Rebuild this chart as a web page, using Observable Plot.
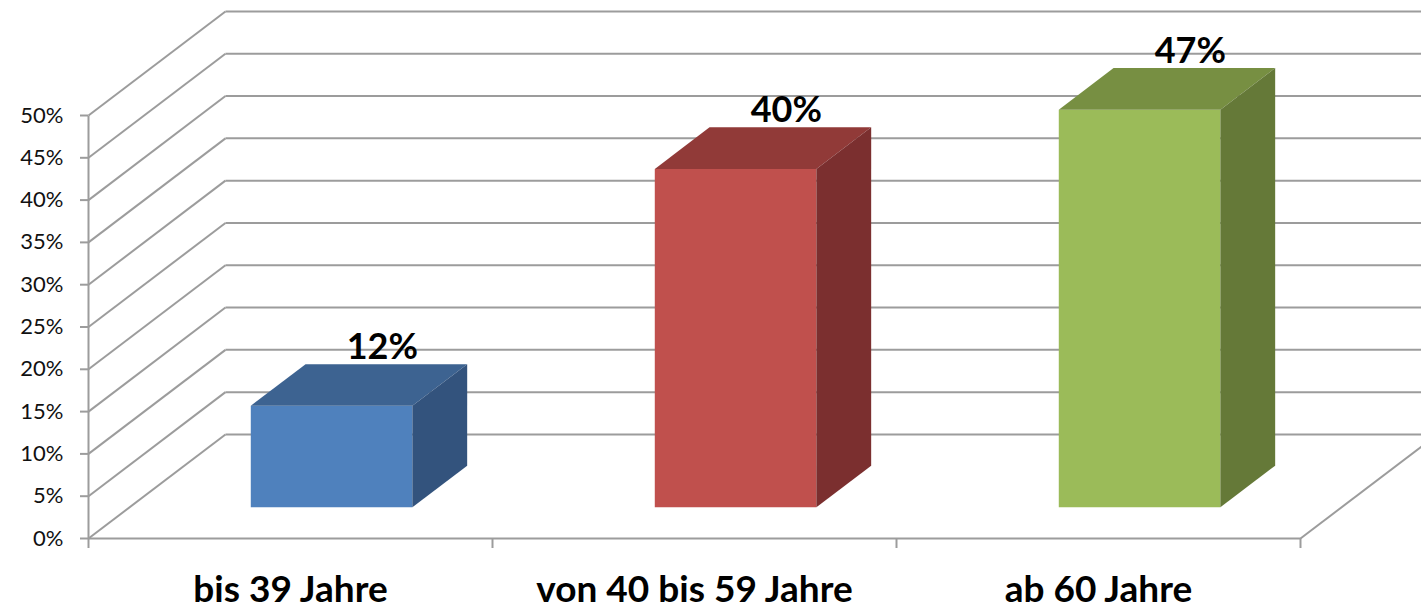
<!DOCTYPE html>
<html>
<head>
<meta charset="utf-8">
<script src="https://cdn.jsdelivr.net/npm/d3@7"></script>
<script src="https://cdn.jsdelivr.net/npm/@observablehq/plot@0.6"></script>
<style>
  html, body { margin: 0; padding: 0; overflow: hidden; background: #fff; }
  #chart { width: 1421px; height: 611px; overflow: hidden; }
</style>
</head>
<body>
<div id="chart"></div>
<script>
// ---- data ----
const categories = ["bis 39 Jahre", "von 40 bis 59 Jahre", "ab 60 Jahre"];
const values = [12, 40, 47];
const valueLabels = ["12%", "40%", "47%"];
const yTicks = [0, 5, 10, 15, 20, 25, 30, 35, 40, 45, 50];
const yTickLabels = ["0%", "5%", "10%", "15%", "20%", "25%", "30%", "35%", "40%", "45%", "50%"];
const categoryBounds = [0, 1, 2, 3];
const frontColors = ["#4F81BD", "#C0504D", "#9BBB59"];
const topColors = ["#3D6391", "#913A38", "#778F42"];
const sideColors = ["#33537D", "#7B2F2F", "#657938"];

// ---- 3D projection helpers (depth expressed in data units) ----
const DX = 0.339;   // horizontal shift of the back wall, in category units
const DY = 12.3;    // vertical shift of the back wall, in percent units
const D0 = 0.3, D1 = 0.7, HALF = 0.2;
const NCAT = categories.length;

const faces = [];
categories.forEach((c, i) => {
  const v = values[i], xc = i + 0.5;
  const xl0 = xc - HALF + D0 * DX, xr0 = xc + HALF + D0 * DX;
  const xl1 = xc - HALF + D1 * DX, xr1 = xc + HALF + D1 * DX;
  const y0 = D0 * DY, y1 = D1 * DY;
  const push = (id, color, pts) => pts.forEach(([x, y]) => faces.push({id, color, x, y}));
  push("front" + i, frontColors[i], [[xl0, y0], [xr0, y0], [xr0, y0 + v], [xl0, y0 + v]]);
  push("top" + i, topColors[i], [[xl0, y0 + v], [xr0, y0 + v], [xr1, y1 + v], [xl1, y1 + v]]);
  push("side" + i, sideColors[i], [[xr0, y0], [xr0, y0 + v], [xr1, y1 + v], [xr1, y1]]);
});

const gridLinks = [];
yTicks.forEach(t => {
  gridLinks.push({x1: 0, y1: t, x2: DX, y2: t + DY});               // left wall
  gridLinks.push({x1: DX, y1: t + DY, x2: NCAT + DX, y2: t + DY});  // back wall
});
gridLinks.push({x1: 0, y1: 0, x2: NCAT, y2: 0});                    // floor front edge
gridLinks.push({x1: NCAT, y1: 0, x2: NCAT + DX, y2: DY});           // floor right edge
gridLinks.push({x1: 0, y1: 0, x2: 0, y2: yTicks[yTicks.length - 1]}); // vertical axis

const gridColor = "#9c9c9c";

const chart = Plot.plot({
  width: 1421,
  height: 611,
  marginLeft: 88,
  marginRight: 121,
  marginTop: 115,
  marginBottom: 73,
  x: {domain: [0, NCAT]},
  y: {domain: [0, 50]},
  color: {type: "identity"},
  style: {fontFamily: "Lato, 'Open Sans', sans-serif", background: "#fff", color: "#000"},
  marks: [
    Plot.link(gridLinks, {x1: "x1", y1: "y1", x2: "x2", y2: "y2", stroke: gridColor, strokeWidth: 2}),
    Plot.axisY(yTicks, {
      tickFormat: d => yTickLabels[yTicks.indexOf(d)],
      tickSize: 8, tickPadding: 17, fontSize: 22,
      stroke: gridColor, strokeWidth: 2, fill: "#111", label: null
    }),
    Plot.axisX(categoryBounds, {
      tickSize: 10, tickFormat: () => "", stroke: gridColor, strokeWidth: 2, label: null
    }),
    Plot.line(faces, {x: "x", y: "y", z: "id", fill: "color", stroke: "none"}),
    Plot.text(valueLabels, {
      x: (d, i) => i + 0.5 + D1 * DX - 0.01,
      y: (d, i) => values[i] + D1 * DY,
      text: d => d, dy: -17, lineAnchor: "middle",
      fontSize: 36, fontWeight: "bold", fill: "#000"
    }),
    Plot.text(categories, {
      x: (d, i) => i + 0.5, frameAnchor: "bottom", lineAnchor: "middle",
      text: d => d, dy: 52, fontSize: 37, fontWeight: "bold", fill: "#000"
    })
  ]
});
document.getElementById("chart").appendChild(chart);
</script>
</body>
</html>
